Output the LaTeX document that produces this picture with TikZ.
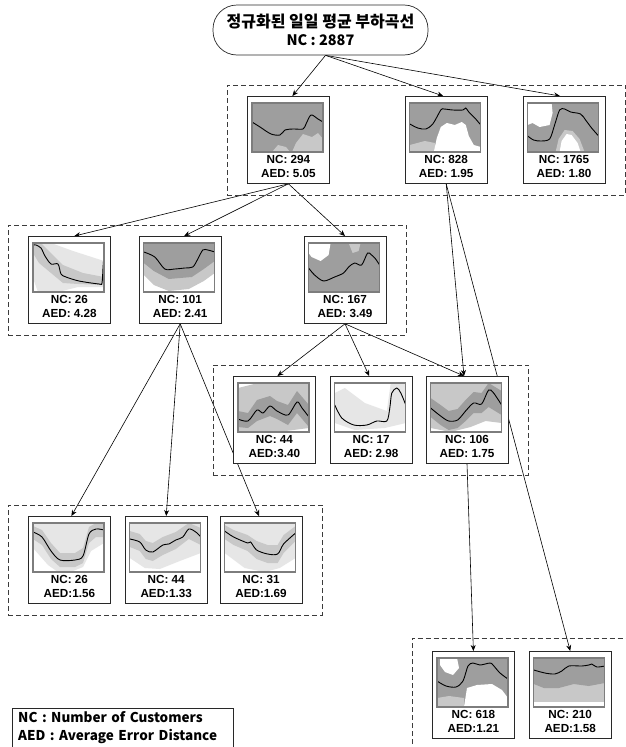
\documentclass[tikz,border=0pt]{standalone}
\usepackage{fontspec}
\usepackage{tikz}
\usetikzlibrary{arrows.meta,positioning,fit,calc,backgrounds}
\newfontfamily\krfont{Noto Sans CJK KR}
\newfontfamily\capfont{Liberation Sans}
\definecolor{tracedense}{RGB}{158,158,158}
\definecolor{tracepale}{RGB}{200,200,200}
\definecolor{tracefaint}{RGB}{230,230,230}
\definecolor{framegray}{RGB}{125,125,125}
\definecolor{boxline}{RGB}{40,40,40}
\definecolor{groupline}{RGB}{60,60,60}

% load profile inside a card: #1 card, #2 fills, #3 mean curve
\newcommand{\drawprofile}[3]{%
  \begin{scope}[shift={(#1.north west)}, xshift=5pt, yshift=-7pt]
    \clip (0,0) rectangle (71,49);
    #2
    \draw[meanline] plot[smooth, tension=0.5] coordinates {#3};
  \end{scope}
  \draw[plotframe] ([xshift=5pt, yshift=-7pt]#1.north west) rectangle ++(71,49);
}

\begin{document}
\begin{tikzpicture}[
    x=1pt, y=-1pt,
    rootbox/.style={rectangle, draw=boxline, line width=0.7pt, rounded corners=24pt, minimum width=215pt, minimum height=50pt, align=center, inner sep=0pt, font=\krfont\bfseries},
    card/.style={rectangle, draw=boxline, line width=0.8pt, fill=white, minimum width=82pt, minimum height=87pt, inner sep=0pt},
    captext/.style={align=center, inner sep=0pt, font=\capfont\bfseries\fontsize{11.7}{14}\selectfont},
    group/.style={draw=groupline, line width=0.6pt, dash pattern=on 5pt off 3pt, inner xsep=20pt, inner ysep=11pt},
    arrow/.style={-{Stealth[length=6pt,width=5pt]}, line width=0.6pt},
    meanline/.style={black, line width=0.9pt},
    plotframe/.style={draw=framegray, line width=1.2pt},
    dense/.style={fill=tracedense},
    pale/.style={fill=tracepale},
    faint/.style={fill=tracefaint}
]
    \useasboundingbox (0,0) rectangle (626,747);

    \node[rootbox] (root) at (320.5,30)
        {\fontsize{16}{21}\selectfont 정규화된 일일 평균 부하곡선\\[4pt]\fontsize{14.5}{21}\selectfont NC : 2887};

    % first split
    \node[card, anchor=north west] (a294) at (247,96) {};
    \node[card, right=75pt of a294] (b828) {};
    \node[card, right=35pt of b828] (c1765) {};
    % split of 294
    \node[card, anchor=north west] (d26) at (28,236) {};
    \node[card, right=28pt of d26] (e101) {};
    \node[card, right=82pt of e101] (f167) {};
    % split of 167
    \node[card, anchor=north west] (g44) at (233,376) {};
    \node[card, right=14pt of g44] (h17) {};
    \node[card, right=13pt of h17] (i106) {};
    % split of 101
    \node[card, anchor=north west] (j26) at (28,516) {};
    \node[card, right=14pt of j26] (k44) {};
    \node[card, right=12pt of k44] (l31) {};
    % split of 828
    \node[card, anchor=north west] (m618) at (432,651) {};
    \node[card, right=14pt of m618] (n210) {};

    \node[captext] at ([yshift=17pt]a294.south) {NC: 294\\AED: 5.05};
    \node[captext] at ([yshift=17pt]b828.south) {NC: 828\\AED: 1.95};
    \node[captext] at ([yshift=17pt]c1765.south) {NC: 1765\\AED: 1.80};
    \node[captext] at ([yshift=17pt]d26.south) {NC: 26\\AED: 4.28};
    \node[captext] at ([yshift=17pt]e101.south) {NC: 101\\AED: 2.41};
    \node[captext] at ([yshift=17pt]f167.south) {NC: 167\\AED: 3.49};
    \node[captext] at ([yshift=17pt]g44.south) {NC: 44\\AED:3.40};
    \node[captext] at ([yshift=17pt]h17.south) {NC: 17\\AED: 2.98};
    \node[captext] at ([yshift=17pt]i106.south) {NC: 106\\AED: 1.75};
    \node[captext] at ([yshift=17pt]j26.south) {NC: 26\\AED:1.56};
    \node[captext] at ([yshift=17pt]k44.south) {NC: 44\\AED:1.33};
    \node[captext] at ([yshift=17pt]l31.south) {NC: 31\\AED:1.69};
    \node[captext] at ([yshift=17pt]m618.south) {NC: 618\\AED:1.21};
    \node[captext] at ([yshift=17pt]n210.south) {NC: 210\\AED:1.58};

    % load profiles
    \drawprofile{a294}{%
        \fill[dense] (0,0) rectangle (71,49);
        \fill[pale] (40,49) -- (44,40) -- (51,31) -- (60,34) -- (66,30) -- (71,36) -- (71,49) -- cycle;
        \fill[pale] (20,49) -- (26,42) -- (34,44) -- (38,49) -- cycle;
    }{(0,19) (8,24) (19,31) (28,32) (33,27) (41,26) (51,26) (54,21) (59,12) (66,16) (71,19)}
    \drawprofile{b828}{%
        \fill[dense] (0,0) rectangle (71,49);
        \fill[pale] (0,49) -- (0,42) -- (15,38) -- (25,40) -- (25,49) -- cycle;
        \fill[white] (24,49) -- (27,35) -- (31,24) -- (37,20) -- (45,22) -- (52,19) -- (56,22) -- (59,33) -- (64,42) -- (71,44) -- (71,49) -- cycle;
    }{(0,21) (8,25) (16,26) (23,21) (31,7) (34,6) (43,7) (53,7) (56,5) (59,9) (65,15) (71,22)}
    \drawprofile{c1765}{%
        \fill[dense] (0,0) rectangle (71,49);
        \fill[white] (0,0) -- (24,0) -- (25,10) -- (22,22) -- (12,24) -- (5,20) -- (0,22) -- cycle;
        \fill[pale] (28,49) -- (31,36) -- (37,27) -- (45,28) -- (52,36) -- (57,49) -- cycle;
        \fill[white] (32,49) -- (34,38) -- (39,31) -- (44,32) -- (50,40) -- (53,49) -- cycle;
    }{(0,33) (6,37) (13,38) (22,36) (27,22) (32,7) (37,6) (43,9) (53,11) (58,17) (64,25) (71,33)}
    \drawprofile{d26}{%
        \fill[faint] (0,0) -- (18,0) -- (40,8) -- (71,18) -- (71,44) -- (45,44) -- (25,49) -- (5,49) -- (0,35) -- cycle;
        \fill[tracepale] (0,0) -- (8,0) -- (20,12) -- (30,22) -- (50,30) -- (71,34) -- (71,42) -- (45,41) -- (30,40) -- (18,30) -- (6,20) -- (0,10) -- cycle;
    }{(0,2) (3,2) (8,5) (12,13) (18,21) (25,21) (28,31) (33,34) (46,38) (66,41) (69,40) (70,25) (71,11)}
    \drawprofile{e101}{%
        \fill[pale] (0,0) -- (71,0) -- (71,30) -- (60,38) -- (45,46) -- (25,48) -- (10,42) -- (0,32) -- cycle;
        \fill[dense] (0,0) -- (71,0) -- (71,18) -- (60,26) -- (48,34) -- (25,36) -- (10,28) -- (0,20) -- cycle;
    }{(0,9) (11,14) (21,26) (31,26) (41,25) (49,24) (54,16) (59,7) (64,7) (71,9)}
    \drawprofile{f167}{%
        \fill[dense] (0,0) rectangle (71,49);
        \fill[white] (0,0) -- (22,0) -- (20,12) -- (12,18) -- (3,14) -- (0,10) -- cycle;
        \fill[pale] (40,0) -- (52,0) -- (50,8) -- (44,10) -- cycle;
    }{(0,25) (6,32) (15,38) (26,34) (35,30) (40,24) (46,20) (53,22) (59,10) (63,12) (67,16) (71,22)}
    \drawprofile{g44}{%
        \fill[pale] (0,5) -- (20,0) -- (71,0) -- (71,45) -- (40,49) -- (0,49) -- cycle;
        \fill[dense] (0,28) -- (10,30) -- (19,17) -- (32,13) -- (39,18) -- (50,22) -- (59,8) -- (71,22) -- (71,44) -- (59,30) -- (50,42) -- (39,36) -- (32,33) -- (19,38) -- (10,45) -- (0,44) -- cycle;
    }{(0,36) (10,38) (19,27) (25,30) (32,23) (39,28) (50,32) (59,19) (64,25) (71,34)}
    \drawprofile{h17}{%
        \fill[faint] (0,10) -- (10,5) -- (30,20) -- (52,28) -- (56,0) -- (71,0) -- (71,40) -- (50,45) -- (20,47) -- (0,40) -- cycle;
    }{(0,22) (7,35) (19,42) (32,42) (42,38) (52,38) (55,25) (57,10) (62,5) (66,10) (71,22)}
    \drawprofile{i106}{%
        \fill[pale] (0,0) -- (71,0) -- (71,40) -- (55,38) -- (40,44) -- (20,49) -- (0,45) -- cycle;
        \fill[dense] (0,15) -- (10,22) -- (18,28) -- (27,26) -- (35,17) -- (43,9) -- (51,10) -- (58,0) -- (71,8) -- (71,32) -- (58,24) -- (51,30) -- (43,30) -- (35,38) -- (27,45) -- (18,47) -- (10,42) -- (0,34) -- cycle;
    }{(0,25) (10,33) (18,38) (27,37) (35,28) (43,20) (51,21) (58,7) (63,10) (71,22)}
    \drawprofile{j26}{%
        \fill[faint] (0,0) -- (71,0) -- (71,20) -- (58,28) -- (50,44) -- (40,48) -- (25,49) -- (15,42) -- (0,25) -- cycle;
        \fill[pale] (0,3) -- (9,7) -- (18,20) -- (27,30) -- (42,30) -- (50,25) -- (56,4) -- (63,0) -- (71,1) -- (71,14) -- (63,14) -- (56,20) -- (50,40) -- (42,44) -- (27,44) -- (18,36) -- (9,22) -- (0,16) -- cycle;
    }{(0,9) (9,14) (18,28) (27,37) (42,37) (50,33) (56,11) (63,6) (71,7)}
    \drawprofile{k44}{%
        \fill[faint] (0,0) -- (71,0) -- (71,30) -- (50,38) -- (30,46) -- (15,45) -- (0,35) -- cycle;
        \fill[pale] (0,8) -- (10,11) -- (16,18) -- (23,20) -- (33,14) -- (46,9) -- (59,0) -- (71,5) -- (71,22) -- (59,16) -- (46,26) -- (33,32) -- (23,38) -- (16,36) -- (10,28) -- (0,24) -- cycle;
    }{(0,16) (10,19) (16,27) (23,29) (33,22) (39,21) (46,17) (53,14) (59,6) (66,9) (71,14)}
    \drawprofile{l31}{%
        \fill[faint] (0,0) -- (71,0) -- (71,35) -- (55,45) -- (40,49) -- (20,45) -- (0,30) -- cycle;
        \fill[pale] (0,2) -- (9,7) -- (23,12) -- (32,18) -- (43,22) -- (53,22) -- (59,12) -- (71,3) -- (71,18) -- (59,30) -- (53,40) -- (43,40) -- (32,36) -- (23,28) -- (9,22) -- (0,16) -- cycle;
    }{(0,8) (9,14) (23,20) (26,19) (32,27) (43,31) (53,31) (59,21) (71,10)}
    \drawprofile{m618}{%
        \fill[dense] (0,0) rectangle (71,49);
        \fill[pale] (0,49) -- (0,40) -- (12,38) -- (27,40) -- (27,49) -- cycle;
        \fill[white] (27,49) -- (30,30) -- (40,27) -- (55,26) -- (65,32) -- (71,40) -- (71,49) -- cycle;
        \fill[white] (3,0) -- (20,0) -- (22,10) -- (16,17) -- (8,14) -- (3,7) -- cycle;
    }{(0,23) (9,28) (19,29) (26,23) (31,8) (36,5) (43,7) (53,5) (56,7) (63,15) (71,21)}
    \drawprofile{n210}{%
        \fill[pale] (0,0) rectangle (71,44);
        \fill[dense] (0,0) -- (71,0) -- (71,25) -- (55,28) -- (40,26) -- (25,30) -- (10,30) -- (0,26) -- cycle;
    }{(0,12) (11,15) (21,16) (28,13) (35,8) (48,8) (55,7) (58,6) (63,9) (71,8)}

    % dashed groups
    \node[group, fit=(a294)(b828)(c1765)] (g1) {};
    \node[group, fit=(d26)(e101)(f167)] (g2) {};
    \node[group, fit=(g44)(h17)(i106)] (g3) {};
    \node[group, fit=(j26)(k44)(l31)] (g4) {};
    \node[inner xsep=20pt, inner ysep=13pt, fit=(m618)(n210)] (g5) {};
    \draw[groupline, line width=0.6pt, dash pattern=on 5pt off 3pt] (g5.south west) -- (g5.north west) -- (g5.north east);

    % connectors run under the cards
    \begin{scope}[on background layer]
        \draw[arrow] ([xshift=5pt]root.south) -- ([xshift=4pt]a294.north);
        \draw[arrow] ([xshift=5pt]root.south) -- ([xshift=-3pt]b828.north);
        \draw[arrow] ([xshift=5pt]root.south) -- ([xshift=-4pt]c1765.north);
        \draw[arrow] (a294.south) -- ([xshift=5pt]d26.north);
        \draw[arrow] (a294.south) -- ([xshift=4pt]e101.north);
        \draw[arrow] (a294.south) -- (f167.north);
        \draw[arrow] (f167.south) -- ([xshift=3pt]g44.north);
        \draw[arrow] (f167.south) -- ([xshift=-2pt]h17.north);
        \draw[arrow] (f167.south) -- ([xshift=-3pt]i106.north);
        \draw[arrow] (e101.south) -- ([xshift=2pt]j26.north);
        \draw[arrow] (e101.south) -- (k44.north);
        \draw[arrow] (e101.south) -- ([xshift=-2pt]l31.north);
        \draw[arrow] (b828.south) -- ([xshift=-3pt]i106.north);
        \draw[arrow] (b828.south) -- (n210.north);
        \draw[arrow] (i106.south) -- (m618.north);
    \end{scope}

    % legend
    \node[anchor=north west, inner xsep=6pt, inner ysep=3pt, text width=209pt, align=left,
          font=\krfont\bfseries\fontsize{13.5}{18}\selectfont] (legend) at (12,708)
          {NC : Number of Customers\\AED : Average Error Distance};
    \draw[boxline, line width=0.7pt] ([yshift=-50pt]legend.north west) -- (legend.north west)
        -- (legend.north east) -- ([yshift=-50pt]legend.north east);
\end{tikzpicture}
\end{document}
